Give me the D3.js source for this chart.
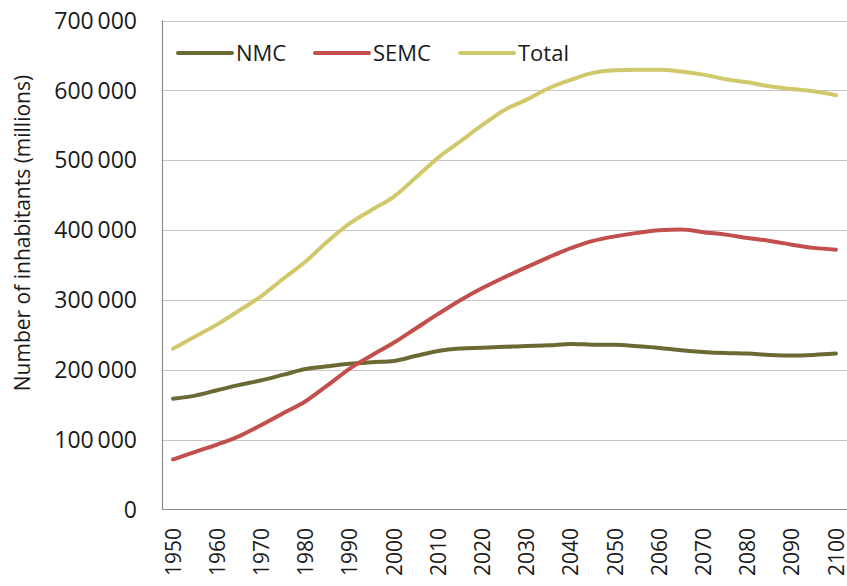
<!DOCTYPE html>
<html>
<head>
<meta charset="utf-8">
<script src="https://cdn.jsdelivr.net/npm/d3@7"></script>
<style>
  html, body { margin: 0; padding: 0; background: #fff; }
  svg { display: block; }
  text { font-family: "Open Sans", "Liberation Sans", sans-serif; fill: #1a1a1a; }
</style>
</head>
<body>
<svg id="chart" width="847" height="586"></svg>
<script>
const years = [1950,1955,1960,1965,1970,1975,1980,1985,1990,1995,2000,2005,2010,2015,2020,2025,2030,2035,2040,2045,2050,2055,2060,2065,2070,2075,2080,2085,2090,2095,2100];
const nmc = [158400,163000,170800,178400,185000,193000,201000,205000,208500,210800,212700,220000,227000,230400,231500,232800,234200,235000,237000,236000,235700,233700,231300,228000,225600,224000,223200,221300,220400,221300,223200];
const semc = [71600,82500,93000,105000,121000,138000,155000,178000,201700,220700,239000,259500,280000,299600,317000,332500,347000,361000,374000,384500,391000,396000,399700,400700,397000,393500,388700,384500,379000,374500,372000];
const total = [230000,247600,265000,285000,305600,330700,355000,384000,409500,429000,448000,475500,503700,527000,550500,572000,586700,603000,615000,625000,628700,629600,629600,627000,622500,616000,611500,605800,602000,598600,593000];
const seriesNames = ["NMC","SEMC","Total"];
const seriesColors = ["#6b6a35","#c24f4b","#d0c96b"];
const yTicks = [0,100000,200000,300000,400000,500000,600000,700000];
const xLabelYears = years.filter((d,i) => i % 2 === 0);
const yTitle = "Number of inhabitants (millions)";

(function () {
const svg = d3.select("#chart");
const pLeft = 162, pRight = 847, pTop = 20.5, pBottom = 509.5;

const x = d3.scaleBand().domain(years).range([pLeft, pRight]).paddingInner(0).paddingOuter(0);
const y = d3.scaleLinear().domain([0, 700000]).range([pBottom, pTop]);
const cx = d => x(d) + x.bandwidth() / 2;

// gridlines
svg.append("g").selectAll("line").data(yTicks.filter(d => d > 0)).join("line")
  .attr("x1", pLeft).attr("x2", pRight)
  .attr("y1", d => Math.round(y(d)) + 0.5).attr("y2", d => Math.round(y(d)) + 0.5)
  .attr("stroke", "#c6c6c6").attr("stroke-width", 1);

// y tick labels
const fmt = v => d3.format(",")(v).replace(/,/g, "\u2009");
svg.append("g").selectAll("text").data(yTicks).join("text")
  .attr("x", 137).attr("y", d => y(d))
  .attr("dy", "0.36em")
  .attr("text-anchor", "end")
  .style("font-size", "23px")
  .text(d => fmt(d));

// axes lines
svg.append("line").attr("x1", pLeft + 0.5).attr("x2", pLeft + 0.5).attr("y1", pTop).attr("y2", pBottom)
  .attr("stroke", "#8c8c8c").attr("stroke-width", 1.2);
svg.append("line").attr("x1", pLeft).attr("x2", pRight).attr("y1", pBottom).attr("y2", pBottom)
  .attr("stroke", "#8c8c8c").attr("stroke-width", 1.2);

// x labels
svg.append("g").selectAll("text").data(xLabelYears).join("text")
  .attr("transform", d => `translate(${cx(d)},528) rotate(-90)`)
  .attr("dy", "0.36em")
  .attr("text-anchor", "end")
  .style("font-size", "21px")
  .text(d => d);

// y title
svg.append("text")
  .attr("transform", "translate(22,233) rotate(-90)")
  .attr("text-anchor", "middle")
  .attr("dy", "0.36em")
  .style("font-size", "21px")
  .text(yTitle);

// lines
const line = d3.line().x((d, i) => cx(years[i])).y(d => y(d)).curve(d3.curveMonotoneX);
const data = [nmc, semc, total];
svg.append("g").selectAll("path").data(data).join("path")
  .attr("d", d => line(d))
  .attr("fill", "none")
  .attr("stroke", (d, i) => seriesColors[i])
  .attr("stroke-width", 4)
  .attr("stroke-linecap", "round")
  .attr("stroke-linejoin", "round");

// legend
const legX = [178, 315, 460];
const legY = 53;
const leg = svg.append("g").selectAll("g").data(seriesNames).join("g");
leg.append("line")
  .attr("x1", (d, i) => legX[i]).attr("x2", (d, i) => legX[i] + 54)
  .attr("y1", legY).attr("y2", legY)
  .attr("stroke", (d, i) => seriesColors[i]).attr("stroke-width", 4).attr("stroke-linecap", "round");
leg.append("text")
  .attr("x", (d, i) => legX[i] + 58).attr("y", legY)
  .attr("dy", "0.36em")
  .style("font-size", "22px")
  .text(d => d);
})();
</script>
</body>
</html>
